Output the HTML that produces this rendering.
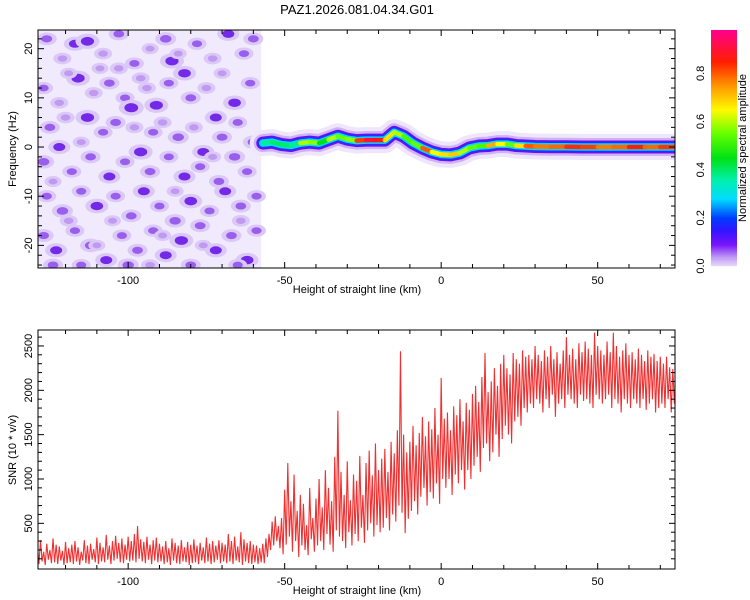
<!DOCTYPE html>
<html><head><meta charset="utf-8"><style>
html,body{margin:0;padding:0;background:#fff;}
svg{display:block;font-family:"Liberation Sans",sans-serif;}
</style></head><body>
<svg id="fig" width="750" height="600" viewBox="0 0 750 600" xmlns="http://www.w3.org/2000/svg">
<text x="357" y="14" font-size="13" text-anchor="middle">PAZ1.2026.081.04.34.G01</text>
</svg>
<script>
// ---------- data ----------
const xTicks=[-100,-50,0,50];
const fTicks=[-20,-10,0,10,20];
const snrTicks=[500,1000,1500,2000,2500];
const cbTicks=[0.0,0.2,0.4,0.6,0.8];
const ridgeKm=[-57,-54,-51,-48,-45,-42,-39,-36,-33,-30,-27,-24,-21,-18,-15,-12,-9,-6,-3,0,3,6,9,12,15,18,21,24,27,30,35,40,45,50,55,60,65,70,75];
const ridgeFreq=[0.8,1.0,0.5,0.3,0.8,1.0,0.8,1.5,2.2,1.6,1.3,1.4,1.4,1.4,3.0,2.2,0.8,-0.2,-1.0,-1.5,-1.6,-1.2,-0.2,0.2,0.3,0.6,0.6,0.3,0.2,0.1,0.05,0.05,0,0,0,0,0,0,0];
const ridgeAmp=[0.45,0.3,0.5,0.3,0.45,0.75,0.4,0.5,0.7,0.4,0.75,0.9,0.9,0.85,0.5,0.7,0.35,0.75,0.85,0.45,0.9,0.5,0.7,0.4,0.65,0.8,0.5,0.6,0.75,0.85,0.7,0.88,0.8,0.85,0.7,0.88,0.82,0.76,0.9];
const noiseBlobs=[[-126,22,.08],[-121,18,.06],[-117,21,.1],[-113,21.5,.12],[-108,19,.06],[-103,23,.08],[-98,17,.07],[-93,20,.05],[-88,22,.09],[-86,17.5,.12],[-82,15,.11],[-78,21,.07],[-73,18,.06],[-68,23,.1],[-63,19,.07],[-60,22,.08],
[-127,12,.07],[-122,9,.06],[-116,14,.12],[-111,11,.06],[-106,13,.08],[-101,10,.07],[-99,8,.13],[-94,12,.06],[-91,8.5,.12],[-87,13,.07],[-80,10,.08],[-75,12,.06],[-72,6,.1],[-66,9,.11],[-61,13,.07],
[-125,4,.08],[-120,6,.06],[-113,6,.12],[-108,3,.07],[-104,5,.08],[-96,-1,.12],[-92,3,.07],[-89,5,.06],[-84,2,.09],[-79,4,.06],[-76,-1,.1],[-70,2,.08],[-65,5,.07],[-60,1,.09],
[-127,-3,.09],[-122,0,.1],[-118,-5,.07],[-112,-2,.08],[-106,-6,.1],[-101,-3,.07],[-93,-5,.08],[-87,-2,.07],[-82,-6,.1],[-77,-4,.07],[-71,-7,.08],[-66,-2,.09],[-62,-5,.07],
[-126,-10,.07],[-121,-13,.09],[-115,-9,.07],[-110,-12,.11],[-104,-10,.07],[-99,-14,.08],[-95,-9,.1],[-90,-12,.07],[-85,-15,.09],[-80,-11,.11],[-74,-13,.07],[-69,-9,.1],[-64,-12,.08],[-59,-10,.07],
[-127,-18,.08],[-123,-21,.1],[-117,-17,.07],[-112,-20,.09],[-107,-23,.1],[-102,-18,.07],[-97,-21,.08],[-92,-17,.07],[-88,-22,.1],[-83,-19,.12],[-77,-16,.08],[-72,-21,.1],[-67,-18,.08],[-62,-23,.11],[-59,-17,.07],
[-124,-24,.08],[-115,-24,.07],[-100,-24,.09],[-80,-24,.08],[-65,-24,.07],
[-119,15,.05],[-109,16,.05],[-96,14,.06],[-84,19,.05],[-70,15,.05],[-124,-7,.05],[-115,1,.05],[-98,4,.06],[-85,-9,.05],[-73,-2,.05],[-119,-15,.06],[-105,-15,.05],[-93,-24,.06],[-76,-20,.05],[-64,-15,.06],[-110,-20,.05],[-103,16,.06],[-89,-18,.05]];
const snrStartKm=-129;
const snrHigh=[250,310,180,270,200,330,260,240,190,290,
220,260,300,230,180,310,250,270,210,340,
280,230,370,250,300,360,280,330,260,350,
300,380,470,320,290,350,260,310,340,270,
240,300,220,330,280,250,310,230,290,260,
320,250,280,230,340,270,300,250,310,280,
260,380,300,350,240,400,320,280,300,260,
250,220,270,330,380,520,580,470,560,880,
1180,750,1050,640,820,720,480,900,560,780,
1000,680,1100,900,750,1250,1770,1080,820,1200,
760,1050,980,1260,820,1180,1320,1040,1400,1100,
1230,1340,1080,1420,1290,1550,2440,1500,1300,1420,
1600,1380,1520,1700,1480,1650,1560,1800,1500,2140,
1680,1750,1550,1820,1720,1900,1650,1860,1780,1960,
2050,1870,2150,2420,1980,2100,2250,2050,2300,2400,
2250,2180,2420,2350,2300,2450,2380,2400,2350,2500,
2400,2330,2450,2380,2500,2350,2430,2300,2450,2600,
2400,2470,2350,2530,2430,2550,2470,2400,2650,2500,
2450,2400,2550,2430,2650,2500,2380,2450,2530,2400,
2430,2350,2470,2400,2330,2450,2380,2410,2330,2380,
2300,2380,2260,2240,2200];
const snrLow=[40,70,30,90,50,60,40,80,30,50,
60,40,70,30,80,50,40,90,60,40,
70,60,90,40,80,100,60,50,90,70,
80,60,100,70,50,90,40,80,60,70,
40,60,30,80,50,40,70,60,30,50,
60,40,80,50,70,40,60,90,50,70,
50,70,40,80,60,30,70,50,40,60,
40,60,50,120,200,250,300,220,150,260,
350,180,300,120,250,200,140,320,180,250,
300,200,380,260,180,420,350,300,220,400,
250,380,300,450,280,420,500,350,480,400,
450,560,420,600,520,700,620,390,550,640,
750,600,800,900,700,850,780,950,720,1000,
900,1000,820,1050,950,1100,880,1100,1000,1150,
1250,1080,1350,1400,1200,1300,1500,1250,1450,1600,
1500,1400,1650,1700,1600,1800,1750,1850,1800,1900,
1850,1750,1900,1800,1950,1700,1850,1900,1800,1950,
1900,1850,1800,1950,1880,1900,1850,1800,1950,1900,
1850,1900,1950,1800,1900,1850,1750,1900,1850,1800,
1900,1850,1800,1900,1780,1850,1900,1750,1800,1850,
1800,1900,1750,1850,1800];

// ---------- scales ----------
const L=38,R=675,T1=30,B1=268,T2=330,B2=569;
const xMin=-128.8,xMax=74.7;
function X(v){return L+(v-xMin)/(xMax-xMin)*(R-L);}
const fMin=-24.6,fMax=23.8;
function YF(f){return B1-(f-fMin)/(fMax-fMin)*(B1-T1);}
const sMin=-15,sMax=2680;
function YS(s){return B2-(s-sMin)/(sMax-sMin)*(B2-T2);}
const cbTop=30,cbBot=266,cbL=711,cbR=737,cbMax=0.98;
function YC(v){return cbBot-v/cbMax*(cbBot-cbTop);}

const stops=[[0,[232,220,250]],[0.04,[190,150,245]],[0.09,[120,20,250]],[0.15,[50,20,255]],[0.2,[0,60,255]],[0.28,[0,220,255]],[0.36,[0,240,170]],[0.45,[0,225,20]],[0.55,[100,255,0]],[0.65,[255,250,0]],[0.75,[255,150,0]],[0.85,[255,30,0]],[0.98,[255,0,140]]];
function cmap(t){
  if(t<=stops[0][0])return 'rgb('+stops[0][1]+')';
  for(let i=1;i<stops.length;i++){if(t<=stops[i][0]){const a=stops[i-1],b=stops[i],u=(t-a[0])/(b[0]-a[0]);return 'rgb('+a[1].map((c,k)=>Math.round(c+(b[1][k]-c)*u)).join(',')+')';}}
  return 'rgb('+stops[stops.length-1][1]+')';
}
const NS='http://www.w3.org/2000/svg';
const svg=document.getElementById('fig');
function mk(tag,attrs,parent){const e=document.createElementNS(NS,tag);for(const k in attrs)e.setAttribute(k,attrs[k]);(parent||svg).appendChild(e);return e;}

// ---------- spectrogram ----------
const spec=mk('g',{});


const defs=mk('defs',{});
const cp=mk('clipPath',{id:'clip1'},defs);mk('rect',{x:L,y:T1,width:R-L,height:B1-T1},cp);
const cp2=mk('clipPath',{id:'clip2'},defs);mk('rect',{x:L,y:T2,width:R-L,height:B2-T2},cp2);
spec.setAttribute('clip-path','url(#clip1)');
const noiseBg=mk('rect',{x:L,y:T1,width:X(-57.5)-L,height:B1-T1,fill:'#f1e9fc'},spec);


noiseBlobs.forEach(b=>{
  const cx=X(b[0]),cy=YF(b[1]);
  const s=b[2]/0.1;
  const h=mk('ellipse',{cx:cx,cy:cy,rx:6+5*s,ry:4+3*s,fill:'#dac8f6'},spec);
  
  
  const col=b[2]<0.07?'#c09af0':(b[2]<0.1?'#9a5eee':'#7428e8');
  const e=mk('ellipse',{cx:cx,cy:cy,rx:3+3*s,ry:2+2*s,fill:col},spec);
  
  
});
const rpts=ridgeKm.map((k,i)=>X(k)+','+YF(ridgeFreq[i])).join(' ');
[[26,'#efe6fc'],[18,'#cfb2f5'],[13,'#6a10f0'],[10,'#2030ff'],[7.5,'#00d8ff']].forEach(s=>{
  const p=mk('polyline',{points:rpts,fill:'none',stroke:s[1],'stroke-width':s[0],'stroke-linejoin':'round','stroke-linecap':'round'},spec);
  
  
});
for(let i=0;i<ridgeKm.length-1;i++){
  const seg=mk('line',{x1:X(ridgeKm[i]),y1:YF(ridgeFreq[i]),x2:X(ridgeKm[i+1]),y2:YF(ridgeFreq[i+1]),stroke:cmap((ridgeAmp[i]+ridgeAmp[i+1])/2),'stroke-width':4.5,'stroke-linecap':'round'},spec);
  
  
}

// ---------- SNR line ----------
let pts=[];
for(let i=0;i<snrHigh.length;i++){const k=snrStartKm+i;pts.push(X(k)+','+YS(snrHigh[i]));pts.push(X(k+0.5)+','+YS(snrLow[i]));}
const snrLine=mk('polyline',{points:pts.join(' '),fill:'none',stroke:'#f03030','stroke-width':1.1,'stroke-linejoin':'miter','clip-path':'url(#clip2)'});



// ---------- axes ----------
function frame(top,bot,name){
  const r=mk('rect',{x:L,y:top,width:R-L,height:bot-top,fill:'none',stroke:'#000','stroke-width':1});
  
  
  for(let v=-120;v<=70;v+=10){const x=X(v),len=(v%50===0)?6:4;
    mk('line',{x1:x,y1:bot,x2:x,y2:bot-len,stroke:'#000'});mk('line',{x1:x,y1:top,x2:x,y2:top+len,stroke:'#000'});}
  xTicks.forEach(v=>{const t=mk('text',{x:X(v),y:bot+16,'font-size':11,'text-anchor':'middle'});t.textContent=v;
    
    });
  const xt=mk('text',{x:357,y:bot+25,'font-size':11,'text-anchor':'middle'});xt.textContent='Height of straight line (km)';
  
  
}
frame(T1,B1,'spectrogram-axes');
frame(T2,B2,'snr-axes');
for(let f=-24;f<=22;f+=2){const y=YF(f),len=(f%10===0)?6:4;mk('line',{x1:L,y1:y,x2:L+len,y2:y,stroke:'#000'});mk('line',{x1:R,y1:y,x2:R-len,y2:y,stroke:'#000'});}
fTicks.forEach(f=>{const y=YF(f);const t=mk('text',{x:0,y:0,'font-size':11,'text-anchor':'middle',transform:'translate(32,'+y+') rotate(-90)'});t.textContent=f;
  
  });
for(let s=100;s<=2600;s+=100){const y=YS(s),len=(s%500===0)?6:4;mk('line',{x1:L,y1:y,x2:L+len,y2:y,stroke:'#000'});mk('line',{x1:R,y1:y,x2:R-len,y2:y,stroke:'#000'});}
snrTicks.forEach(s=>{const y=YS(s);const t=mk('text',{x:0,y:0,'font-size':11,'text-anchor':'middle',transform:'translate(32,'+y+') rotate(-90)'});t.textContent=s;
  
  });
const yt1=mk('text',{x:0,y:0,'font-size':11,'text-anchor':'middle',transform:'translate(16,149) rotate(-90)'});yt1.textContent='Frequency (Hz)';


const yt2=mk('text',{x:0,y:0,'font-size':11,'text-anchor':'middle',transform:'translate(16,450) rotate(-90)'});yt2.textContent='SNR (10 * v/v)';



// ---------- colorbar ----------
const cb=mk('g',{});


for(let y=cbTop;y<cbBot;y++){mk('rect',{x:cbL,y:y,width:cbR-cbL,height:1.2,fill:cmap((cbBot-y)/(cbBot-cbTop)*cbMax)},cb);}
cbTicks.forEach(v=>{const y=YC(v);const t=mk('text',{x:0,y:0,'font-size':11,'text-anchor':'middle',transform:'translate(704,'+y+') rotate(-90)'},cb);t.textContent=v.toFixed(1);
  
  });
const ct=mk('text',{x:0,y:0,'font-size':11,'text-anchor':'middle',transform:'translate(746,148) rotate(-90)'},cb);ct.textContent='Normalized spectral amplitude';


</script>
</body></html>
